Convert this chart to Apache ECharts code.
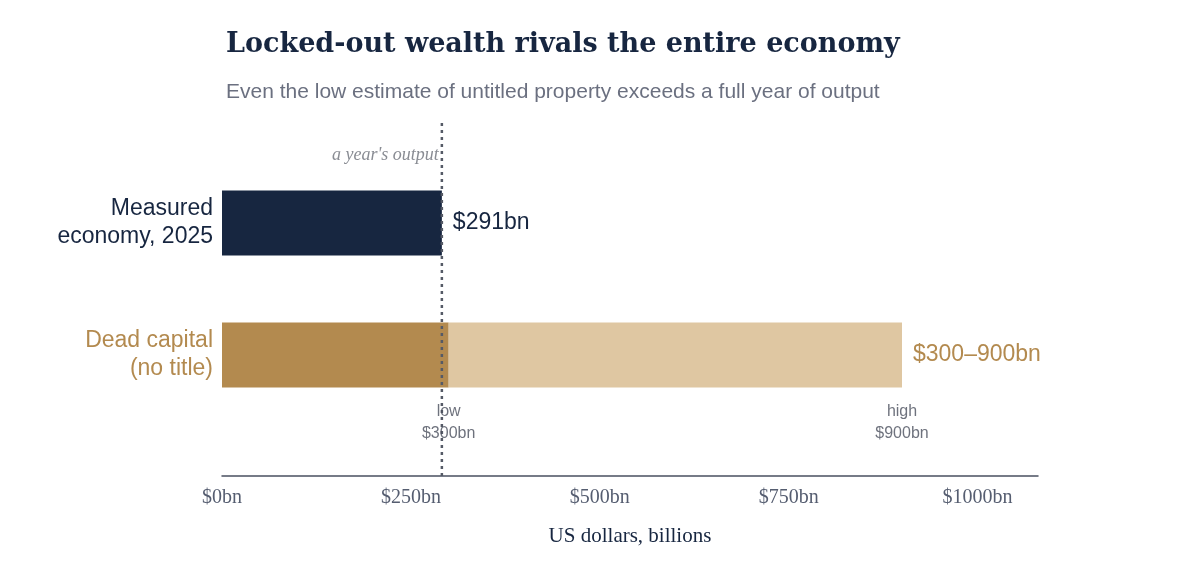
<!DOCTYPE html>
<html><head><meta charset="utf-8">
<script src="https://cdn.jsdelivr.net/npm/echarts@6/dist/echarts.min.js"></script>
<style>html,body{margin:0;background:#fff}#c{width:1200px;height:572px}</style>
</head><body><div id="c"></div>
<script>
const categories = ["Measured\neconomy, 2025", "Dead capital\n(no title)"];
const measured = [291, null];
const deadLow = [null, 300];
const deadRange = [null, 600]; // 300 -> 900
const yearOutput = 291;
const ticks = [0, 250, 500, 750, 1000];

const navy = "#172640", gold = "#b38a4f", sand = "#dfc7a2";
const chart = echarts.init(document.getElementById("c"));
chart.setOption({
  title: {
    text: "Locked-out wealth rivals the entire economy",
    subtext: "Even the low estimate of untitled property exceeds a full year of output",
    left: 221, top: 26, itemGap: 24,
    textStyle: { fontFamily: "DejaVu Serif", fontWeight: "bold", fontSize: 27, color: navy },
    subtextStyle: { fontFamily: "Liberation Sans", fontSize: 21, color: "#6b7080" }
  },
  grid: [
    { left: 222, right: 162, top: 157, bottom: 151 },
    { left: 222, right: 162, top: 120, bottom: 96 }
  ],
  xAxis: [
    { gridIndex: 0, type: "value", min: 0, max: 1080, show: false },
    { gridIndex: 1, type: "value", min: 0, max: 1080, interval: 250,
      splitLine: { show: false }, axisTick: { show: false },
      axisLine: { show: true, lineStyle: { color: "#4a5060", width: 1.5 } },
      axisLabel: { margin: 12, fontFamily: "Liberation Serif", fontSize: 20, color: "#555d70",
        formatter: v => ticks.includes(v) ? "$" + v + "bn" : "" },
      name: "US dollars, billions", nameLocation: "middle", nameGap: 50,
      nameTextStyle: { fontFamily: "Liberation Serif", fontSize: 21, color: navy } }
  ],
  yAxis: [
    { gridIndex: 0, type: "category", data: categories, inverse: true,
      axisLine: { show: false }, axisTick: { show: false },
      axisLabel: { margin: 9, fontFamily: "Liberation Sans", fontSize: 23, lineHeight: 28, align: "right",
        color: (v, i) => i === 0 ? navy : gold } },
    { gridIndex: 1, type: "value", min: 0, max: 1, show: false }
  ],
  series: [
    { type: "bar", xAxisIndex: 0, yAxisIndex: 0, stack: "a", barWidth: 65, data: measured,
      itemStyle: { color: navy },
      label: { show: true, position: "right", distance: 11, formatter: "$291bn",
        fontFamily: "Liberation Sans", fontSize: 23, color: navy } },
    { type: "bar", xAxisIndex: 0, yAxisIndex: 0, stack: "a", barWidth: 65, data: deadLow,
      itemStyle: { color: gold } },
    { type: "bar", xAxisIndex: 0, yAxisIndex: 0, stack: "a", barWidth: 65, data: deadRange,
      itemStyle: { color: sand },
      label: { show: true, position: "right", distance: 11, formatter: "$300–900bn",
        fontFamily: "Liberation Sans", fontSize: 23, color: gold } },
    { type: "line", xAxisIndex: 1, yAxisIndex: 1, symbol: "none", z: 5,
      data: [[yearOutput, 0], [yearOutput, 1]],
      lineStyle: { color: "#555a66", width: 2.5, type: [3, 4] } },
    { type: "scatter", xAxisIndex: 1, yAxisIndex: 1, symbolSize: 1, z: 6,
      itemStyle: { color: "transparent" },
      data: [
        { value: [yearOutput, 0.9], label: { formatter: "a year's output", position: "inside", align: "right", offset: [-3, 0],
          fontFamily: "Liberation Serif", fontStyle: "italic", fontSize: 18, color: "#6b6f78" } },
        { value: [300, 0.15], label: { formatter: "low\n$300bn", position: "inside" } },
        { value: [900, 0.15], label: { formatter: "high\n$900bn", position: "inside" } }
      ],
      label: { show: true, fontFamily: "Liberation Sans", fontSize: 16, lineHeight: 22, color: "#4a4f5c", align: "center" } }
  ]
});
</script></body></html>
